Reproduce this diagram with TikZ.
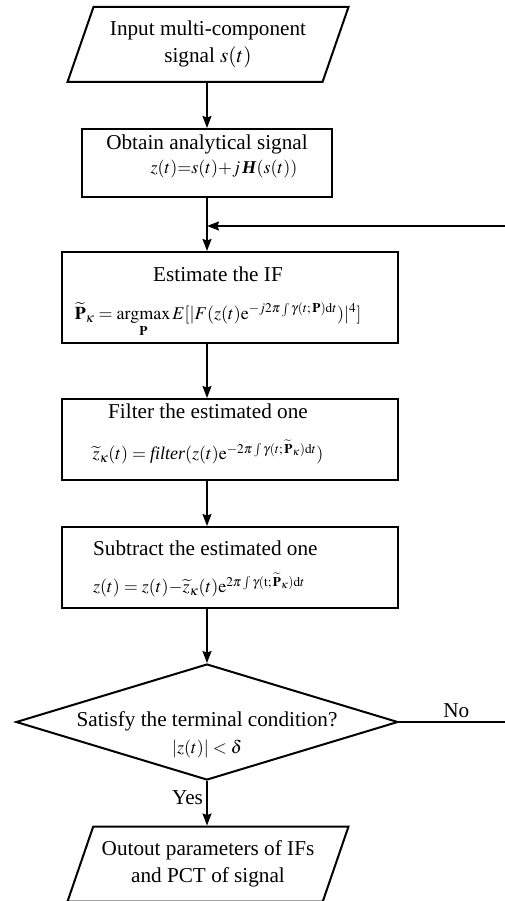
\documentclass[tikz,border=0pt]{standalone}
\usepackage{mathptmx}
\usepackage{amsmath}
\usepackage{fontspec}
\setmainfont{Liberation Serif}
\usetikzlibrary{positioning,arrows.meta,shapes.geometric}

\newcommand{\fsz}{\fontsize{18}{27}\selectfont}

\begin{document}
\begin{tikzpicture}[
  x=1pt, y=-1pt,
  font=\fontsize{21.2}{27}\selectfont,
  box/.style={rectangle, draw=black, line width=2pt, inner sep=0pt},
  io/.style={trapezium, trapezium left angle=63, trapezium right angle=117,
             trapezium stretches body, draw=black, line width=2pt,
             minimum height=75pt, minimum width=281pt, align=center, inner sep=2pt},
  cnd/.style={diamond, draw=black, line width=2pt, inner sep=0pt,
              minimum width=382pt, minimum height=116pt},
  txt/.style={align=center, inner sep=0pt},
  arr/.style={-{Stealth[length=12pt,width=9pt,inset=1.5pt]}, line width=1.5pt},
  ln/.style={line width=1.5pt}
]
\useasboundingbox (0,0) rectangle (505,901);

% steps of the loop
\node[io] (in1) at (208,44.5) {Input multi-component\\signal $s(t)$};
\node[box, minimum width=250pt, minimum height=68pt] (obt) at (207,163) {};
\node[txt] (obtT) at (207,156) {Obtain analytical signal\\[-3pt]\fsz\hspace*{34pt}$z(t){=}s(t){+}j\,\textbf{\textit{H}}(s(t))$};
\node[box, minimum width=336pt, minimum height=91pt] (est) at (230,297.5) {};
\node[txt] (estT) at (218,302) {Estimate the IF\\[11pt]
  \fsz$\widetilde{\mathbf{P}}_\kappa = \mathop{\mathrm{argmax}}\limits_{\mathbf{P}} E[|F(z(t)\mathrm{e}^{-j2\pi\int\gamma(t;\,\mathbf{P})\mathrm{d}t})|^4]$};
\node[box, minimum width=336pt, minimum height=81pt] (filt) at (230,439.5) {};
\node[txt] (filtT) at (208,434) {Filter the estimated one\\[14pt]
  \fsz$\widetilde{z}_\kappa(t) = \textit{filter}(z(t)\mathrm{e}^{-2\pi\int\gamma(t;\,\widetilde{\mathbf{P}}_\kappa)\mathrm{d}t})$};
\node[box, minimum width=336pt, minimum height=81pt] (sub) at (230,567.5) {};
\node[txt, align=left, anchor=west] (subT) at (93,569) {Subtract the estimated one\\[10pt]
  \fsz$z(t) = z(t){-}\widetilde{z}_\kappa(t)\mathrm{e}^{2\pi\int\gamma(\mathrm{t};\,\widetilde{\mathbf{P}}_\kappa)\mathrm{d}t}$};
\node[cnd] (cond) at (207,722) {};
\node[txt] (condT) at (207,735) {Satisfy the terminal condition?\\\fsz$|z(t)|<\delta$};
\node[io] (out) at (208,864) {Outout parameters of IFs\\and PCT of signal};

\coordinate (fbIn) at (505,226);
\coordinate (noOut) at (505,722);

% flow
\draw[arr] (in1.south -| obt.north) -- (obt.north);
\draw[arr] (obt.south) -- (obt.south |- est.north);
\draw[arr] (est.south -| obt.south) -- (filt.north -| obt.south);
\draw[arr] (filt.south -| obt.south) -- (sub.north -| obt.south);
\draw[arr] (sub.south -| obt.south) -- (cond.north);
\draw[arr] (cond.south) -- node[left, pos=0.38]{Yes} (cond.south |- out.north);
\draw[ln] (cond.east) -- node[above, pos=0.54]{No} (noOut);
\draw[arr] (fbIn) -- (fbIn -| obt.north);
\end{tikzpicture}
\end{document}
